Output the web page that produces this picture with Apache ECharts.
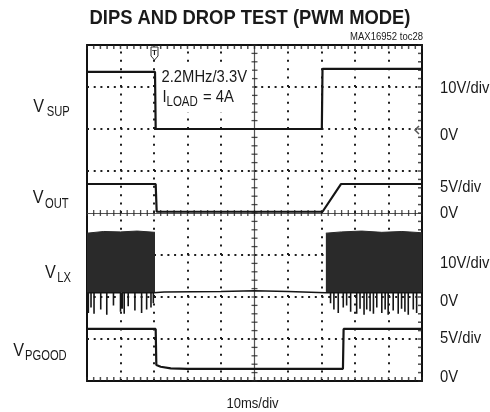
<!DOCTYPE html>
<html><head><meta charset="utf-8">
<script src="https://cdn.jsdelivr.net/npm/echarts/dist/echarts.min.js"></script>
<style>html,body{margin:0;padding:0;background:#fff}#c{width:490px;height:412px}</style>
</head><body><div id="c"></div>
<script>
// Oscilloscope screen: x in time divisions (0..10), y in vertical divisions (0..8)
const xDivs = 10;
const yDivs = 8;
const subDivs = 5;

// Trace levels (in divisions)
const vsup   = [[0,7.36],[2.03,7.36],[2.05,6.0],[7.01,6.0],[7.03,7.43],[10,7.43]];
const vout   = [[0,4.69],[2.05,4.69],[2.08,4.03],[7.03,4.03],[7.58,4.69],[10,4.69]];
const vpgood = [[0,1.24],[2.05,1.24],[2.07,0.38],[2.2,0.34],[2.5,0.30],[3,0.29],[7.64,0.29],[7.66,1.24],[10,1.24]];

// LX switching node: dense burst envelope (top edge) and baseline
const lxBase = 2.1;
const lxBandLeft  = [[0,3.52],[0.5,3.56],[1.0,3.55],[1.5,3.57],[2.03,3.54]];
const lxBandRight = [[7.13,3.52],[7.6,3.55],[8.2,3.57],[8.8,3.54],[9.4,3.56],[10,3.53]];
const lxOff = [[2.03,2.09],[2.3,2.12],[4,2.13],[5,2.15],[6,2.13],[7.13,2.1]];
const lxSpikeX = [0.04,0.12,0.21,0.41,0.59,0.79,1.0,1.05,1.11,1.23,1.43,1.63,1.78,1.91,1.98,
                  7.27,7.37,7.5,7.65,7.75,7.87,8.05,8.15,8.27,8.35,8.45,8.55,8.65,8.8,8.9,8.99,9.14,9.29,9.39,9.49,9.59,9.74,9.84];
const lxSpikeY = [1.62,1.75,1.6,1.7,1.58,1.8,1.65,1.72,1.6,1.78,1.68,1.62,1.7,1.75,1.85,
                  1.85,1.7,1.62,1.75,1.8,1.65,1.6,1.72,1.58,1.7,1.66,1.6,1.75,1.62,1.7,1.58,1.68,1.6,1.72,1.65,1.58,1.7,1.62];

// Text
const titleText = 'DIPS AND DROP TEST (PWM MODE)';
const tocText = 'MAX16952 toc28';
const xUnitText = '10ms/div';
const rightLabels = ['10V/div','0V','5V/div','0V','10V/div','0V','5V/div','0V'];
const rightLabelY = [88.8,135,187.5,213.3,263,301.5,338.3,377];

// build LX trace from baseline + spikes
const lxTrace = [[0,lxBase]];
lxSpikeX.forEach((x,i)=>{ if (x < 5) lxTrace.push([x,lxBase],[x,lxSpikeY[i]],[x,lxBase]); });
lxOff.forEach(p=>lxTrace.push(p));
lxSpikeX.forEach((x,i)=>{ if (x > 5) lxTrace.push([x,lxBase],[x,lxSpikeY[i]],[x,lxBase]); });
lxTrace.push([10,lxBase]);

// graticule (screen grid) built from the division counts
const cx = xDivs/2, cy = yDivs/2;
const vGrid = [], hGrid = [];
for (let i=1;i<xDivs;i++) if (i!==cx) vGrid.push({coords:[[i,0],[i,yDivs]]});
for (let j=1;j<yDivs;j++) if (j!==cy) hGrid.push({coords:[[0,j],[xDivs,j]]});
const centerLines = [{coords:[[cx,0],[cx,yDivs]]},{coords:[[0,cy],[xDivs,cy]]}];
const hCenterTicks = [], vCenterTicks = [], topTicks = [], botTicks = [], rightTicks = [];
for (let i=0;i<=xDivs*subDivs;i++){ const x=i/subDivs; hCenterTicks.push([x,cy]); topTicks.push([x,yDivs]); botTicks.push([x,0]); }
for (let j=0;j<=yDivs*subDivs;j++){ const y=j/subDivs; vCenterTicks.push([cx,y]); rightTicks.push([xDivs,y]); }

const FONT = '"Liberation Sans", Arial, sans-serif';
const TR = '#151515';
function txt(x,y,s,size,opts){
  opts = opts||{};
  return {type:'text', x:x, y:y, scaleX:opts.sx||0.87, z:100,
    style:{text:s, font:(opts.bold?'bold ':'')+size+'px '+FONT, fill:opts.fill||'#1a1a1a',
      align:opts.align||'left', textAlign:opts.align||'left',
      verticalAlign:'middle', textVerticalAlign:'middle'}};
}
const graphics = [
  {type:'rect', shape:{x:157,y:64,width:95,height:48}, style:{fill:'#fff'}, z:50},
  txt(250,18.8,titleText,20,{bold:true,align:'center',sx:0.92}),
  txt(423,37.5,tocText,10,{align:'right',sx:0.95}),
  txt(252.5,403.5,xUnitText,15,{align:'center'}),
  txt(161.5,77.8,'2.2MHz/3.3V',17),
  txt(162.5,97.8,'I',17),
  txt(166.5,102.5,'LOAD',14,{sx:0.82}),
  txt(203,97.8,'= 4A',17),
  txt(33.3,106.7,'V',18,{sx:0.9}), txt(46.7,112,'SUP',14,{sx:0.8}),
  txt(32.7,198.3,'V',18,{sx:0.9}), txt(45,204,'OUT',14,{sx:0.8}),
  txt(45,273.3,'V',18,{sx:0.9}), txt(57.3,278,'LX',14,{sx:0.8}),
  txt(13.3,351.5,'V',18,{sx:0.9}), txt(25,356,'PGOOD',14,{sx:0.8}),
  {type:'polygon', shape:{points:[[151,47],[158,47],[158,56],[154.5,60],[151,56]]}, style:{fill:'#fff',stroke:'#333',lineWidth:1}, z:60},
  txt(154.5,52.5,'T',8,{bold:true,align:'center',sx:1}),
  {type:'polyline', shape:{points:[[419,126],[415,130],[419,134]]}, style:{stroke:'#555',lineWidth:1.5,fill:null}, z:60}
];
rightLabels.forEach((s,i)=>graphics.push(txt(440,rightLabelY[i],s,17)));

const frame = {show:true, onZero:false, lineStyle:{color:'#111', width:2}};
function ax(min,max,pos){
  return {type:'value', min:min, max:max, interval:1, position:pos,
    axisLine:frame, axisLabel:{show:false}, axisTick:{show:false},
    splitLine:{show:false}, minorTick:{show:false}, minorSplitLine:{show:false}};
}
const DOT = '#1e1e1e', TICK = '#222';
function tickSeries(data, size, offset){
  return {type:'scatter', data:data, symbol:'rect', symbolSize:size, symbolOffset:offset,
    itemStyle:{color:TICK}, silent:true, z:2, animation:false};
}

const option = {
  animation:false,
  backgroundColor:'#fff',
  grid:{left:87, top:45, width:335, height:336},
  xAxis:[ax(0,xDivs,'bottom'), ax(0,xDivs,'top')],
  yAxis:[ax(0,yDivs,'left'), ax(0,yDivs,'right')],
  graphic:graphics,
  series:[
    {type:'lines', coordinateSystem:'cartesian2d', data:vGrid, silent:true, z:1,
      lineStyle:{color:DOT, width:2, type:[2,6.4], opacity:1}},
    {type:'lines', coordinateSystem:'cartesian2d', data:hGrid, silent:true, z:1,
      lineStyle:{color:DOT, width:2, type:[2,4.7], opacity:1}},
    {type:'lines', coordinateSystem:'cartesian2d', data:centerLines, silent:true, z:1,
      lineStyle:{color:'#555', width:1.2, opacity:1}},
    tickSeries(hCenterTicks,[1.3,6],[0,0]),
    tickSeries(vCenterTicks,[6,1.3],[0,0]),
    tickSeries(topTicks,[1.5,4],[0,2]),
    tickSeries(botTicks,[1.5,4],[0,-2]),
    tickSeries(rightTicks,[4,1.5],[-2,0]),
    {type:'line', data:lxBandLeft, showSymbol:false, lineStyle:{width:1,color:'#2a2a2a'}, areaStyle:{color:'#2a2a2a',opacity:1,origin:lxBase}, z:3},
    {type:'line', data:lxBandRight, showSymbol:false, lineStyle:{width:1,color:'#2a2a2a'}, areaStyle:{color:'#2a2a2a',opacity:1,origin:lxBase}, z:3},
    {type:'line', data:lxTrace, showSymbol:false, lineStyle:{width:1.6,color:TR}, z:4},
    {type:'line', data:vsup, showSymbol:false, lineStyle:{width:2.2,color:TR}, z:4},
    {type:'line', data:vout, showSymbol:false, lineStyle:{width:2.2,color:TR}, z:4},
    {type:'line', data:vpgood, showSymbol:false, lineStyle:{width:2.2,color:TR}, z:4}
  ]
};
const chart = echarts.init(document.getElementById('c'), null, {renderer:'canvas'});
chart.setOption(option);
</script></body></html>
